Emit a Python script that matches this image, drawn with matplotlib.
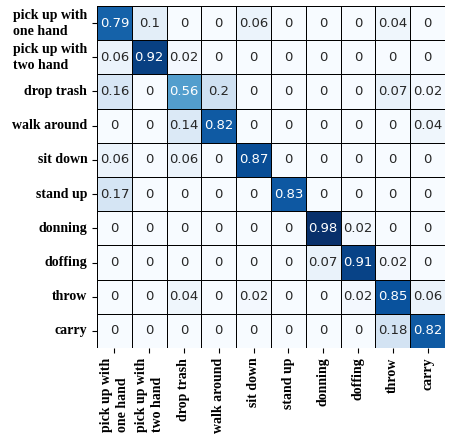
import numpy as np
import matplotlib.pyplot as plt
import seaborn as sns

labels = ['pick up with\none hand', 'pick up with\ntwo hand', 'drop trash', 'walk around',
          'sit down', 'stand up', 'donning', 'doffing', 'throw', 'carry']

row_pick_one = [0.79, 0.1, 0, 0, 0.06, 0, 0, 0, 0.04, 0]
row_pick_two = [0.06, 0.92, 0.02, 0, 0, 0, 0, 0, 0, 0]
row_drop = [0.16, 0, 0.56, 0.2, 0, 0, 0, 0, 0.07, 0.02]
row_walk = [0, 0, 0.14, 0.82, 0, 0, 0, 0, 0, 0.04]
row_sit = [0.06, 0, 0.06, 0, 0.87, 0, 0, 0, 0, 0]
row_stand = [0.17, 0, 0, 0, 0, 0.83, 0, 0, 0, 0]
row_donning = [0, 0, 0, 0, 0, 0, 0.98, 0.02, 0, 0]
row_doffing = [0, 0, 0, 0, 0, 0, 0.07, 0.91, 0.02, 0]
row_throw = [0, 0, 0.04, 0, 0.02, 0, 0, 0.02, 0.85, 0.06]
row_carry = [0, 0, 0, 0, 0, 0, 0, 0, 0.18, 0.82]

cm = np.array([row_pick_one, row_pick_two, row_drop, row_walk, row_sit,
               row_stand, row_donning, row_doffing, row_throw, row_carry])

fig = plt.figure(figsize=(4.52, 4.40), dpi=100)
ax = fig.add_axes([97 / 452, 1 - 348 / 440, 348 / 452, 342 / 440])

sns.heatmap(cm, ax=ax, cmap='Blues', annot=True, fmt='g', cbar=False,
            linewidths=0.7, linecolor='black', annot_kws={'size': 9.5},
            xticklabels=labels, yticklabels=labels)

ax.set_yticklabels(labels, rotation=0, fontfamily='Liberation Serif',
                   fontweight='bold', fontsize=10, multialignment='left',
                   linespacing=1.3)
ax.set_xticklabels(labels, rotation=90, fontfamily='Liberation Serif',
                   fontweight='bold', fontsize=10, multialignment='left',
                   linespacing=1.3)

fig.savefig('out.png', dpi=100)
